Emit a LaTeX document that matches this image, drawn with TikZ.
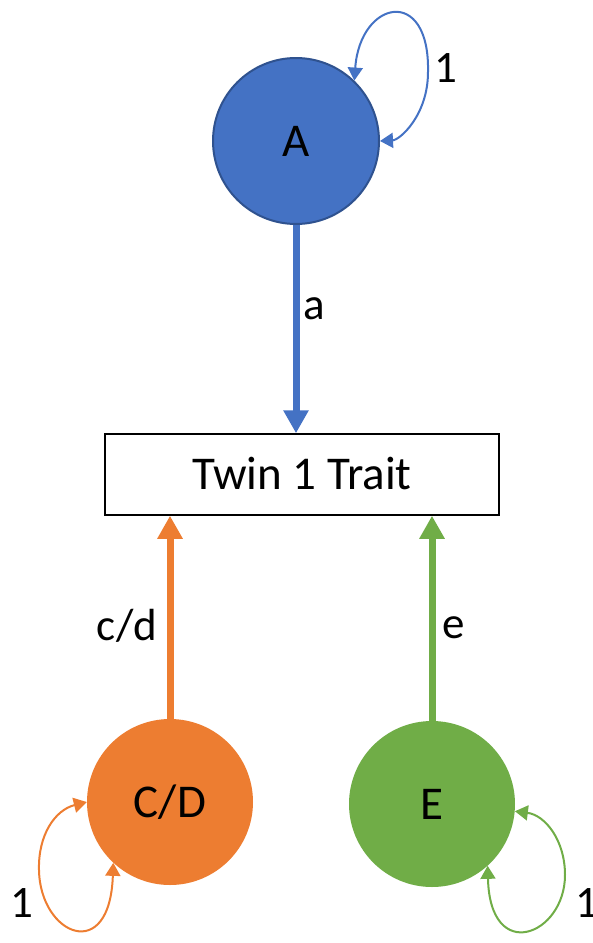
\documentclass[tikz,border=0pt]{standalone}
\usepackage{fontspec}
\setmainfont{Carlito}
\usetikzlibrary{arrows.meta}
\definecolor{cblue}{HTML}{4472C4}
\definecolor{cblueline}{HTML}{2F528F}
\definecolor{corange}{HTML}{ED7D31}
\definecolor{cgreen}{HTML}{70AD47}
\tikzset{
  latent/.style={circle, inner sep=0pt, minimum size=166pt, text height=30pt, text depth=0pt, font=\fontsize{47}{56}\selectfont},
  traitbox/.style={draw=black, line width=1.5pt, fill=white, minimum width=394pt, minimum height=81pt, inner sep=0pt, text height=30pt, text depth=0pt, font=\fontsize{47}{56}\selectfont},
  patharrow/.style={line width=7pt, -{Triangle[width=24pt,length=23pt]}},
  varloop/.style={line width=2pt, {Triangle[width=15pt,length=13pt]}-{Triangle[width=15pt,length=13pt]}},
  lbl/.style={anchor=base, inner sep=0pt, font=\fontsize{45}{54}\selectfont}
}
\begin{document}
\begin{tikzpicture}[x=1pt,y=-1pt]
\useasboundingbox (0,0) rectangle (593,943);
\node[latent, fill=cblue, draw=cblueline, line width=2pt] (A) at (296,141) {A};
\node[traitbox] (T) at (302,474.5) {Twin 1 Trait};
\node[latent, fill=corange] (CD) at (170,802) {C/D};
\node[latent, fill=cgreen] (E) at (432,804) {E};

% path arrows
\draw[patharrow, cblue] (A.south) -- (A.south |- T.north);
\draw[patharrow, corange] (CD.north) -- (CD.north |- T.south);
\draw[patharrow, cgreen] (E.north) -- (E.north |- T.south);

% variance loops
\coordinate (Aloop) at (428,72);
\draw[varloop, cblue] (A.46) .. controls (360,0) and (430,-15) .. (Aloop) .. controls (428,115) and (400,140) .. (A.0);
\coordinate (CDloop) at (39,870);
\draw[varloop, corange] (CD.180) .. controls (55,810) and (38,835) .. (CDloop) .. controls (40,935) and (110,965) .. (CD.-133);
\coordinate (Eloop) at (565,875);
\draw[varloop, cgreen] (E.-5) .. controls (545,815) and (565,840) .. (Eloop) .. controls (565,935) and (490,965) .. (E.-48);

% labels
\node[lbl] (la) at (314,319) {a};
\node[lbl] (lcd) at (127,640) {c/d};
\node[lbl] (le) at (454,638) {e};
\node[lbl] (l1a) at (446,82) {1};
\node[lbl] (l1cd) at (22,917) {1};
\node[lbl] (l1e) at (587,917) {1};
\end{tikzpicture}
\end{document}
